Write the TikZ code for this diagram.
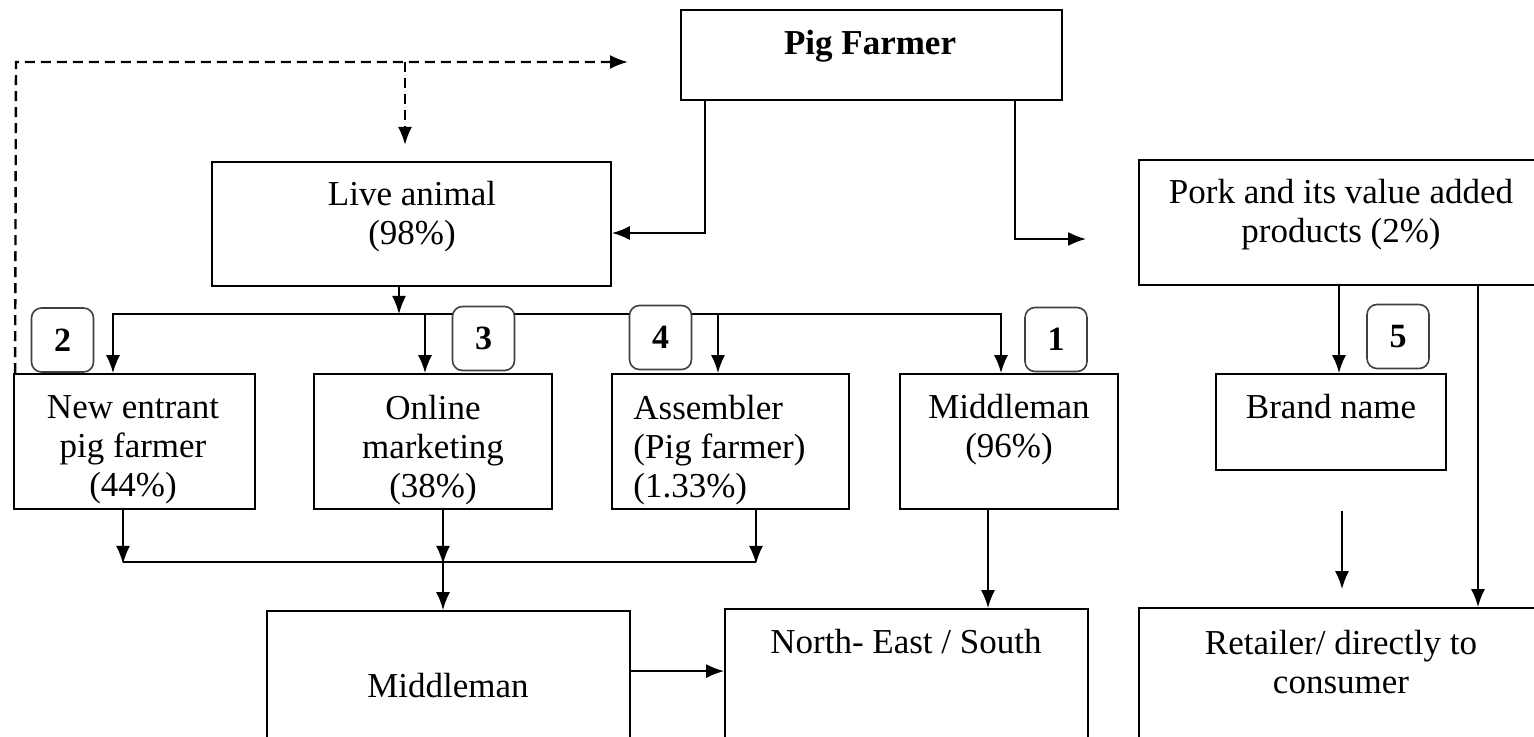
\documentclass[tikz,border=0pt]{standalone}
\usepackage{fontspec}
\setmainfont{Liberation Serif}
\usetikzlibrary{arrows.meta,positioning,calc}

\tikzset{
  box/.style={draw, line width=0.9pt, inner sep=0pt},
  txt/.style={align=center, inner sep=0pt, font=\fontsize{17.5}{19.5}\selectfont},
  badge/.style={draw=black!75, line width=0.8pt, fill=white, rounded corners=5pt,
    minimum width=31pt, minimum height=32pt, inner sep=0pt,
    font=\fontsize{17}{19.5}\selectfont\bfseries},
  arr/.style={line width=0.9pt, -{Latex[length=9pt,width=7pt]}},
  dasharr/.style={arr, line width=1.2pt, dash pattern=on 5pt off 3pt}
}

\begin{document}
\begin{tikzpicture}[x=0.5pt, y=-0.5pt]
\useasboundingbox (0,0) rectangle (1534,737);
\clip (0,0) rectangle (1534,737);

% Top row
\node[box, minimum width=190.5pt, minimum height=45pt] (pig) at (871.5,55) {};
\node[txt, font=\fontsize{17.5}{19.5}\selectfont\bfseries] (pig-t) at (870,46) {Pig Farmer};
\node[box, minimum width=199.5pt, minimum height=62pt] (live) at (411.5,224) {};
\node[txt] (live-t) at (412,217) {Live animal\\(98\%)};
\node[box, minimum width=202pt, minimum height=62.5pt] (pork) at (1341,222.5) {};
\node[txt] (pork-t) at (1341,215) {Pork and its value added\\products (2\%)};

% Second row (channels)
\node[box, minimum width=120.5pt, minimum height=67.5pt] (ne) at (134.5,441.5) {};
\node[txt] (ne-t) at (133,450) {New entrant\\pig farmer\\(44\%)};
\node[box, minimum width=119pt, minimum height=67.5pt] (onl) at (433,441.5) {};
\node[txt] (onl-t) at (433,450) {Online\\marketing\\(38\%)};
\node[box, minimum width=118.5pt, minimum height=67.5pt] (asm) at (730.5,441.5) {};
\node[txt, align=left, anchor=west] (asm-t) at (633,450) {Assembler\\(Pig farmer)\\(1.33\%)};
\node[box, minimum width=109pt, minimum height=67.5pt] (mid96) at (1009,441.5) {};
\node[txt] (mid96-t) at (1009,430) {Middleman\\(96\%)};
\node[box, minimum width=115pt, minimum height=48pt] (brand) at (1331,422) {};
\node[txt] (brand-t) at (1331,407) {Brand name};

% Bottom row (cut by the page edge)
\node[box, minimum width=181.5pt, minimum height=75pt] (mid2) at (448.5,686) {};
\node[txt] (mid2-t) at (448,686) {Middleman};
\node[box, minimum width=181.5pt, minimum height=76pt] (nes) at (906.5,685) {};
\node[txt] (nes-t) at (906,642) {North- East / South};
\node[box, minimum width=202pt, minimum height=76.5pt] (ret) at (1341,684.5) {};
\node[txt] (ret-t) at (1341,662) {Retailer/ directly to\\consumer};

% Dashed feedback from new entrants
\coordinate (dtop) at (16,62);
\coordinate (dsplit) at (405,62);
\coordinate (dend) at (628,62);
\coordinate (dtip) at (405,145);
\draw[dasharr] ($(ne.north west)+(2,0)$) -- (dtop) -- (dend);
\draw[dasharr] (dsplit) -- (dtip);

% Pig farmer outputs
\coordinate (porkin) at (1086,239);
\draw[arr] ($(pig.south west)+(25,0)$) |- ($(live.east)+(0,9)$);
\draw[arr] ($(pig.south east)+(-48,0)$) |- (porkin);

% Live animal to the channels
\coordinate (bus) at (399,314);
\draw[arr] ($(live.south)+(-12.5,0)$) -- (bus);
\draw[arr] (bus) -| ($(ne.north)+(-21.5,0)$);
\draw[arr] (bus) -| ($(mid96.north)+(-8,0)$);
\draw[arr] ($(onl.north)+(-8,0)$) ++(0,-60) -- ($(onl.north)+(-8,0)$);
\draw[arr] ($(asm.north)+(-12.5,0)$) ++(0,-60) -- ($(asm.north)+(-12.5,0)$);

% Number badges
\node[badge] (b2) at (62.5,340) {2};
\node[badge] (b3) at (483.5,338.5) {3};
\node[badge] (b4) at (660.5,337.5) {4};
\node[badge] (b1) at (1056,339.5) {1};
\node[badge] (b5) at (1398,336.5) {5};

% Channels to middleman
\coordinate (join) at (443,561);
\draw[arr] ($(ne.south)+(-11.5,0)$) -- ++(0,54);
\draw[arr] ($(onl.south)+(10,0)$) -- ++(0,54);
\draw[arr] ($(asm.south)+(25.5,0)$) -- ++(0,54);
\draw[line width=0.9pt] ($(ne.south)+(-11.5,52)$) -- ($(asm.south)+(25.5,52)$);
\draw[arr] (join) -- (join |- mid2.north);

% Middlemen to North-East / South
\draw[arr] ($(mid96.south)+(-21,0)$) coordinate (m96b) -- (m96b |- nes.north);
\draw[arr] ($(mid2.north east)+(0,61)$) -- ($(nes.north west)+(0,63)$);

% Pork branch
\draw[arr] ($(pork.south)+(-2,0)$) coordinate (pb) -- (pb |- brand.north);
\draw[arr] ($(pork.south)+(137,0)$) coordinate (pr) -- (pr |- ret.north);
\draw[arr] ($(brand.south)+(11,40)$) coordinate (bb) -- ($(bb |- ret.north)+(0,-18)$);
\end{tikzpicture}
\end{document}
